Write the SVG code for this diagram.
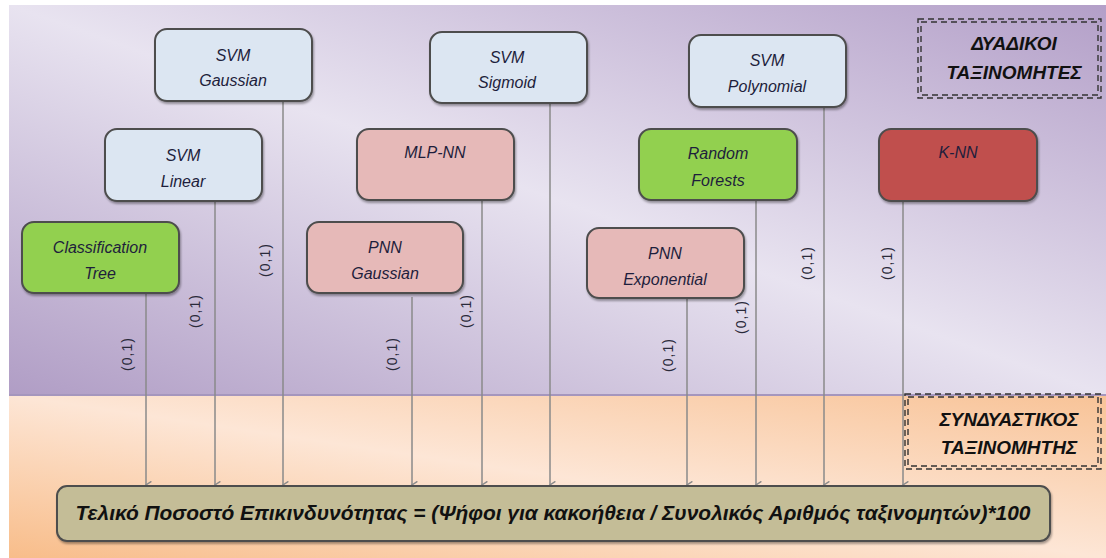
<svg xmlns="http://www.w3.org/2000/svg" width="1106" height="558" viewBox="0 0 1106 558">
  <defs>
    <linearGradient id="bgTop" x1="0" y1="1" x2="1" y2="0">
      <stop offset="0" stop-color="#b09dc5"/>
      <stop offset="0.5" stop-color="#e8e3f0"/>
      <stop offset="1" stop-color="#b39fc8"/>
    </linearGradient>
    <linearGradient id="bgBottom" x1="0" y1="1" x2="1" y2="0">
      <stop offset="0" stop-color="#f8bd8a"/>
      <stop offset="0.5" stop-color="#fde6d6"/>
      <stop offset="1" stop-color="#f8c397"/>
    </linearGradient>
    <filter id="shadow" x="-10%" y="-10%" width="125%" height="130%">
      <feDropShadow dx="1" dy="2" stdDeviation="1.2" flood-color="#000" flood-opacity="0.35"/>
    </filter>
    <marker id="arrow" viewBox="0 0 10 10" refX="5" refY="9" markerWidth="9" markerHeight="9" markerUnits="userSpaceOnUse" orient="auto-start-reverse">
      <path d="M1,3 L5,9 L9,3" fill="none" stroke="#8a8a8a" stroke-width="1.6"/>
    </marker>
    <style>
      .node { stroke: #4d4d4d; stroke-width: 2; filter: url(#shadow); }
      .svm { fill: #dce6f2; }
      .green { fill: #92d050; }
      .pink { fill: #e6b9b8; }
      .red { fill: #c0504d; }
      .label { font-family: "Liberation Sans", Arial, sans-serif; font-style: italic; font-size: 16px; fill: #1e1e3c; text-anchor: middle; }
      .vote { font-family: "Liberation Sans", Arial, sans-serif; font-size: 14px; letter-spacing: 1px; fill: #2a2a3a; text-anchor: middle; }
      .title { font-family: "Liberation Sans", Arial, sans-serif; font-style: italic; font-weight: bold; font-size: 19px; fill: #111; text-anchor: middle; }
      .formula { font-family: "Liberation Sans", Arial, sans-serif; font-style: italic; font-weight: bold; font-size: 20px; fill: #111; text-anchor: middle; }
      .frame { fill: none; stroke: #333; stroke-width: 1.4; stroke-dasharray: 6 4; }
      .link { stroke: #8a8a8a; stroke-width: 1.5; fill: none; marker-end: url(#arrow); }
    </style>
  </defs>

  <!-- background bands -->
  <rect x="0" y="0" width="1106" height="558" fill="#ffffff"/>
  <rect x="9" y="5" width="1097" height="390" fill="url(#bgTop)"/>
  <rect x="9" y="395" width="1097" height="163" fill="url(#bgBottom)"/>
  <line x1="9" y1="395" x2="1106" y2="395" stroke="#a596bd" stroke-width="2"/>

  <!-- section captions -->
  <g id="binary-caption">
    <rect class="frame" x="918" y="19" width="183" height="79"/>
    <rect class="frame" x="921" y="22" width="177" height="73"/>
    <text class="title" x="1014" y="50">ΔΥΑΔΙΚΟΙ</text>
    <text class="title" x="1014" y="79">ΤΑΞΙΝΟΜΗΤΕΣ</text>
  </g>
  <g id="ensemble-caption">
    <rect class="frame" x="905" y="394" width="196" height="75"/>
    <rect class="frame" x="908" y="397" width="190" height="69"/>
    <text class="title" x="1009" y="426">ΣΥΝΔΥΑΣΤΙΚΟΣ</text>
    <text class="title" x="1009" y="454">ΤΑΞΙΝΟΜΗΤΗΣ</text>
  </g>

  <!-- connectors: each classifier casts a (0,1) vote -->
  <g id="connectors">
    <line class="link" x1="146" y1="294" x2="146" y2="485"/>
    <line class="link" x1="215" y1="202" x2="215" y2="485"/>
    <line class="link" x1="283" y1="102" x2="283" y2="485"/>
    <line class="link" x1="412" y1="297" x2="412" y2="485"/>
    <line class="link" x1="482" y1="201" x2="482" y2="485"/>
    <line class="link" x1="550" y1="104" x2="550" y2="485"/>
    <line class="link" x1="687" y1="299" x2="687" y2="485"/>
    <line class="link" x1="756" y1="201" x2="756" y2="485"/>
    <line class="link" x1="824" y1="108" x2="824" y2="485"/>
    <line class="link" x1="903" y1="202" x2="903" y2="485"/>
    <text class="vote" transform="translate(132,354) rotate(-90)">(0,1)</text>
    <text class="vote" transform="translate(200,311) rotate(-90)">(0,1)</text>
    <text class="vote" transform="translate(270,260) rotate(-90)">(0,1)</text>
    <text class="vote" transform="translate(397,354) rotate(-90)">(0,1)</text>
    <text class="vote" transform="translate(471,311) rotate(-90)">(0,1)</text>
    <text class="vote" transform="translate(673,355) rotate(-90)">(0,1)</text>
    <text class="vote" transform="translate(746,317) rotate(-90)">(0,1)</text>
    <text class="vote" transform="translate(812,263) rotate(-90)">(0,1)</text>
    <text class="vote" transform="translate(892,263) rotate(-90)">(0,1)</text>
  </g>

  <!-- binary classifiers -->
  <g id="svm-gaussian">
    <rect class="node svm" x="155" y="29" width="157" height="72" rx="12"/>
    <text class="label" x="233" y="61">SVM</text>
    <text class="label" x="233" y="86">Gaussian</text>
  </g>
  <g id="svm-linear">
    <rect class="node svm" x="105" y="129" width="157" height="72" rx="12"/>
    <text class="label" x="183" y="161">SVM</text>
    <text class="label" x="183" y="187">Linear</text>
  </g>
  <g id="classification-tree">
    <rect class="node green" x="22" y="222" width="157" height="71" rx="12"/>
    <text class="label" x="100" y="253">Classification</text>
    <text class="label" x="100" y="279">Tree</text>
  </g>
  <g id="svm-sigmoid">
    <rect class="node svm" x="430" y="32" width="157" height="71" rx="12"/>
    <text class="label" x="507" y="63">SVM</text>
    <text class="label" x="507" y="88">Sigmoid</text>
  </g>
  <g id="mlp-nn">
    <rect class="node pink" x="357" y="129" width="157" height="71" rx="12"/>
    <text class="label" x="435" y="158">MLP-NN</text>
  </g>
  <g id="pnn-gaussian">
    <rect class="node pink" x="307" y="222" width="156" height="71" rx="12"/>
    <text class="label" x="385" y="253">PNN</text>
    <text class="label" x="385" y="279">Gaussian</text>
  </g>
  <g id="svm-polynomial">
    <rect class="node svm" x="689" y="35" width="157" height="72" rx="12"/>
    <text class="label" x="767" y="66">SVM</text>
    <text class="label" x="767" y="92">Polynomial</text>
  </g>
  <g id="random-forests">
    <rect class="node green" x="639" y="129" width="158" height="71" rx="12"/>
    <text class="label" x="718" y="159">Random</text>
    <text class="label" x="718" y="186">Forests</text>
  </g>
  <g id="pnn-exponential">
    <rect class="node pink" x="587" y="228" width="157" height="70" rx="12"/>
    <text class="label" x="665" y="259">PNN</text>
    <text class="label" x="665" y="285">Exponential</text>
  </g>
  <g id="k-nn">
    <rect class="node red" x="879" y="129" width="158" height="72" rx="12"/>
    <text class="label" x="958" y="158">K-NN</text>
  </g>

  <!-- ensemble output -->
  <g id="final-score">
    <rect class="node" x="57" y="486" width="993" height="55" rx="10" fill="#c4bd97"/>
    <text class="formula" x="553" y="520" textLength="955" lengthAdjust="spacingAndGlyphs">Τελικό Ποσοστό Επικινδυνότητας = (Ψήφοι για κακοήθεια / Συνολικός Αριθμός ταξινομητών)*100</text>
  </g>
</svg>
